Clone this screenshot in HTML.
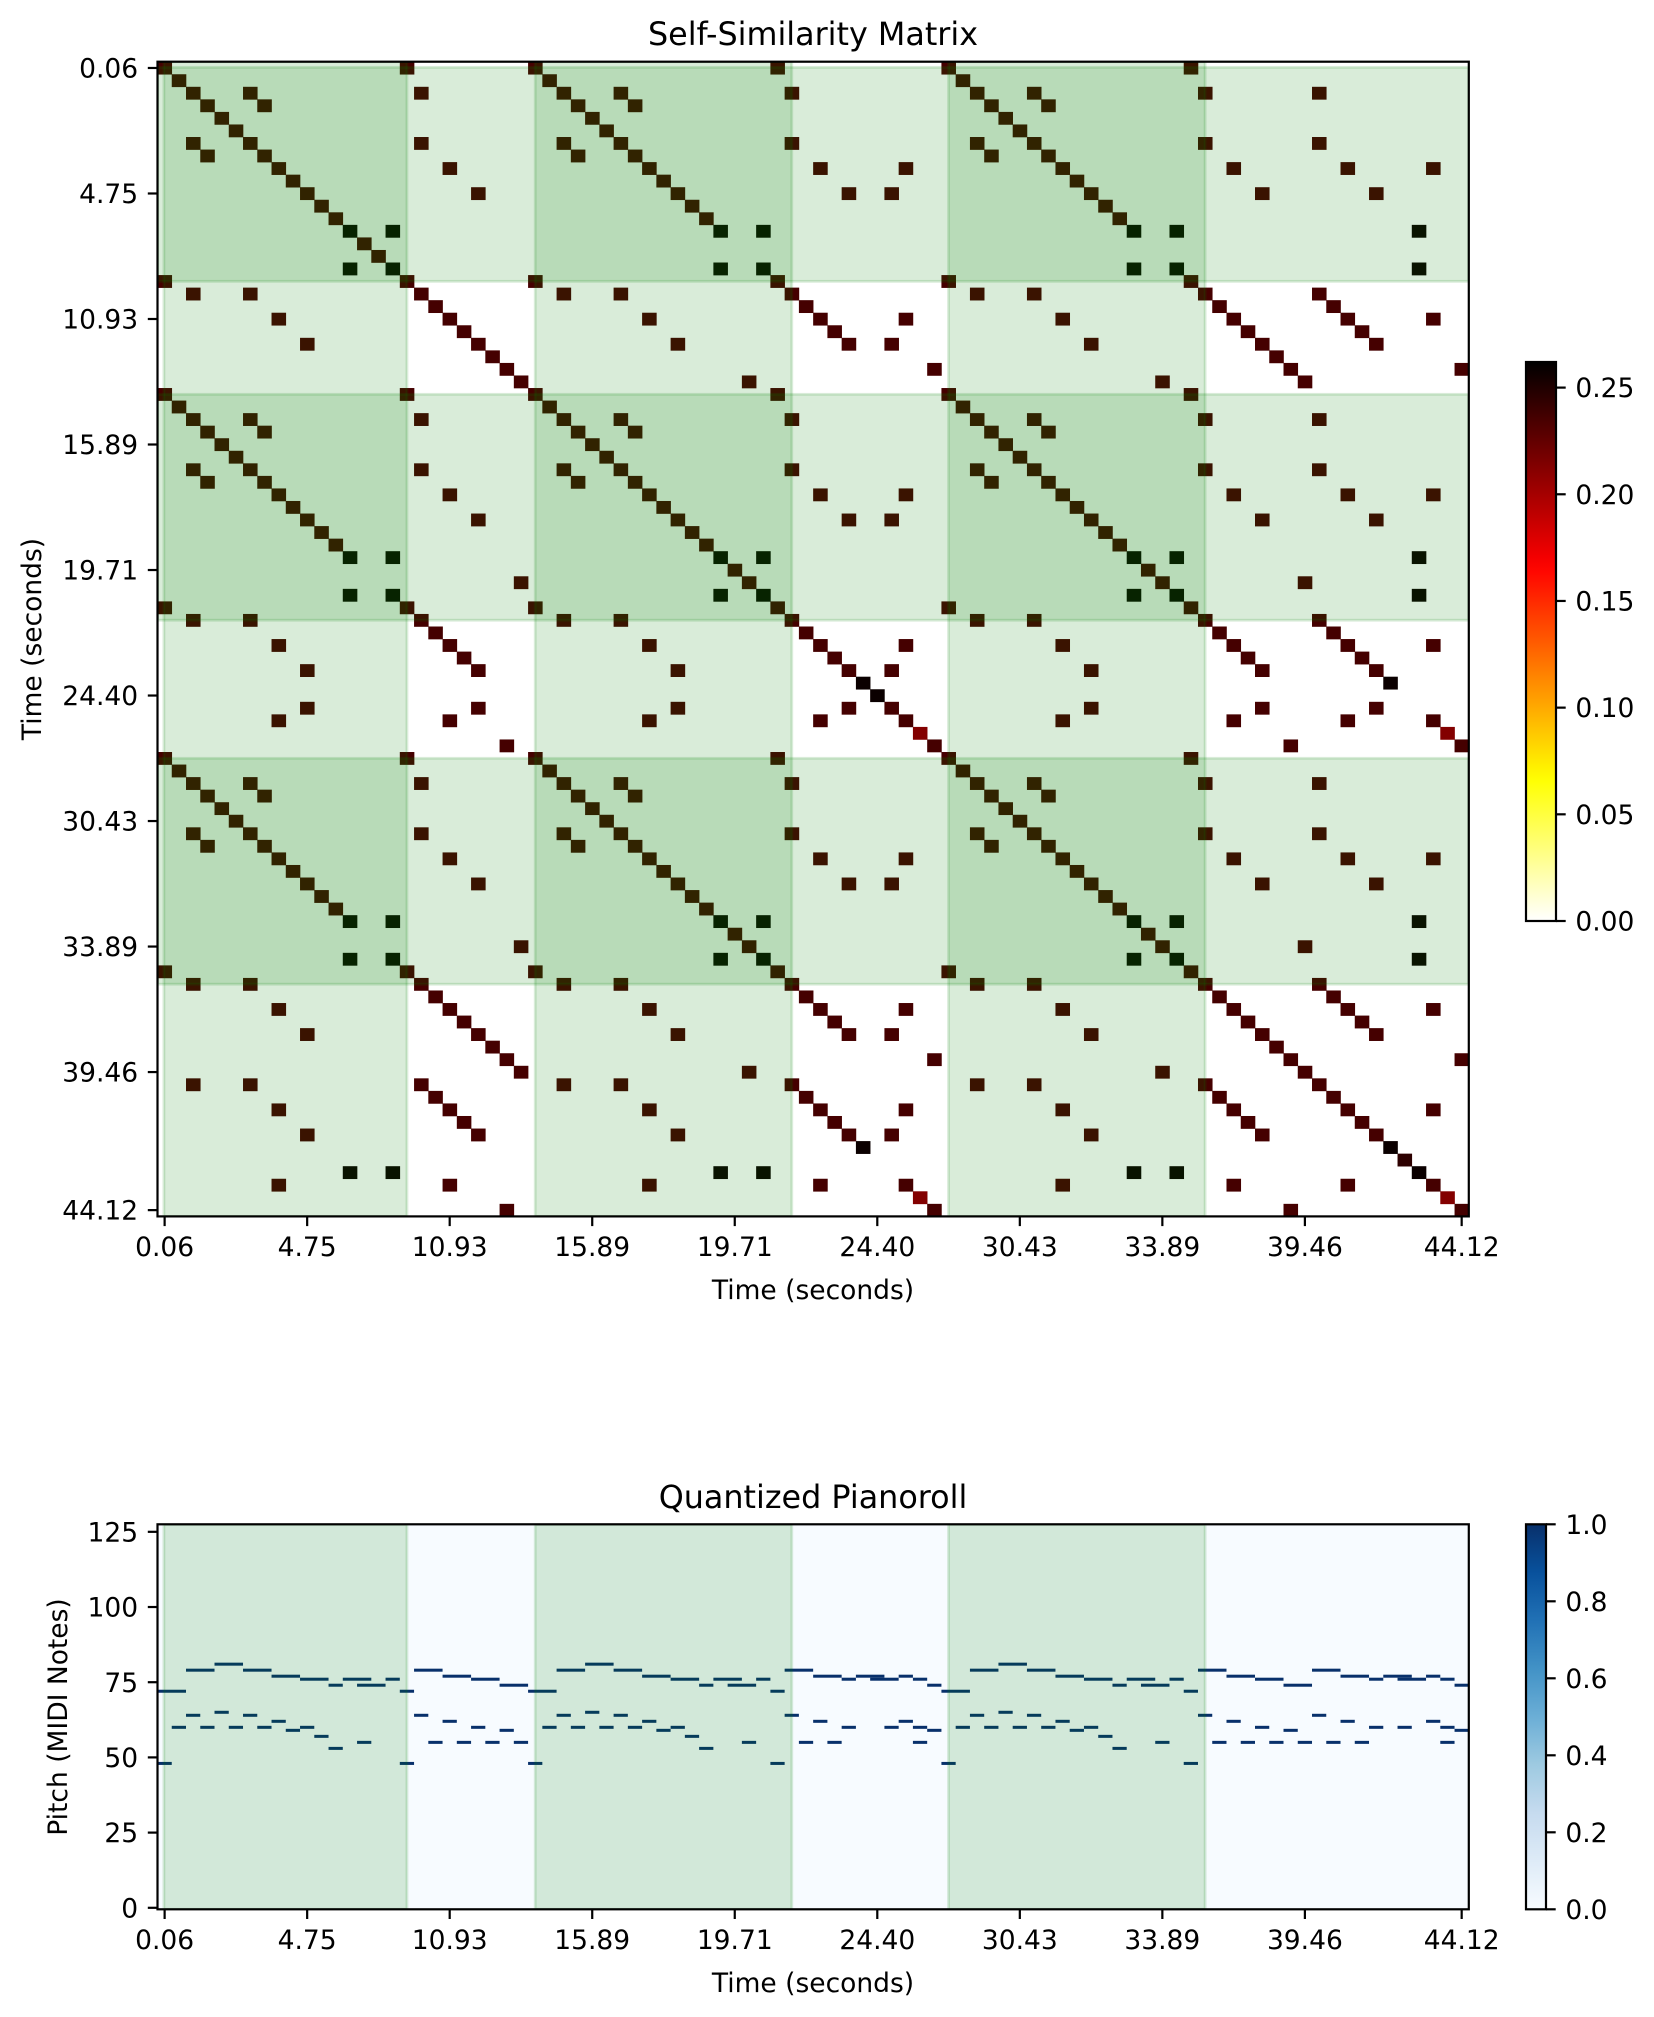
<!DOCTYPE html>
<html><head><meta charset="utf-8"><title>Self-Similarity Matrix</title>
<style>
html,body{margin:0;padding:0;background:#fff;}
svg{display:block;font-family:"DejaVu Sans","Liberation Sans",sans-serif;}
</style></head>
<body>
<svg id="fig" width="1654" height="2017" viewBox="0 0 1654 2017" xmlns="http://www.w3.org/2000/svg">
<rect x="0" y="0" width="1654" height="2017" fill="#fff"/>
<defs>
<clipPath id="clipSSM"><rect x="157.5" y="61.7" width="1311.3" height="1154.7"/></clipPath>
<clipPath id="clipPR"><rect x="157.5" y="1524.3" width="1311.3" height="385"/></clipPath>
<linearGradient id="hotGrad" x1="0" y1="1" x2="0" y2="0"></linearGradient>
<linearGradient id="bluesGrad" x1="0" y1="1" x2="0" y2="0"></linearGradient>
</defs>
<g id="ssm"></g>
<g id="pr"></g>
<g id="cb1"></g>
<g id="cb2"></g>
<g id="txt"></g>
</svg>
<script>
// ---------- data ----------
const frameLabels = [
 "a","b","c","d","e","f","c","d","g","h","i","j","k","l","m","n","l",
 "a","c","o","g","p","i","q","r","s",
 "a","b","c","d","e","f","c","d","g","h","i","j","k","l","m2","s","l",
 "a","c","o","g","p","i","t","w","i","g","u","r",
 "a","b","c","d","e","f","c","d","g","h","i","j","k","l","m2","s","l",
 "a","c","o","g","p","i","q","r","s","c","o","g","p","i","t","v","l","g","u","r"
];
const strongLabels = ["l","t","w"];
const strongValue = 0.258;
const redLabels = ["u"];
const redValue = 0.213;
const midLabels = ["v"];
const midValue = 0.245;
const defaultValue = 0.236;
const ssmVmax = 0.262;

const sectionStarts = [0.45, 26.5, 55.5];
const sectionEnds = [17.5, 44.5, 73.5];

const timeTickFrames = [0,10,20,30,40,50,60,70,80,91];
const timeTickLabels = ["0.06","4.75","10.93","15.89","19.71","24.40","30.43","33.89","39.46","44.12"];
const pitchTicks = [0,25,50,75,100,125];
const ssmCbTicks = [0,0.05,0.10,0.15,0.20,0.25];
const ssmCbLabels = ["0.00","0.05","0.10","0.15","0.20","0.25"];
const prCbTicks = [0,0.2,0.4,0.6,0.8,1.0];
const prCbLabels = ["0.0","0.2","0.4","0.6","0.8","1.0"];

const noteEvents = [
 [81,4,6],[81,30,32],[81,59,61],
 [79,2,4],[79,6,8],[79,18,20],[79,28,30],[79,32,34],[79,44,46],[79,57,59],[79,61,63],[79,73,75],[79,81,83],
 [77,8,10],[77,20,22],[77,34,36],[77,46,48],[77,49,51],[77,52,53],[77,63,65],[77,75,77],[77,83,85],[77,86,88],[77,89,90],
 [76,10,12],[76,13,15],[76,16,17],[76,22,24],[76,36,38],[76,39,41],[76,42,43],[76,48,49],[76,50,52],[76,53,54],[76,65,67],[76,68,70],[76,71,72],[76,77,79],[76,85,86],[76,87,89],[76,90,91],
 [74,12,13],[74,14,16],[74,24,26],[74,38,39],[74,40,42],[74,54,55],[74,67,68],[74,69,71],[74,79,81],[74,91,92],
 [72,0,2],[72,17,18],[72,26,28],[72,43,44],[72,55,57],[72,72,73],
 [65,4,5],[65,30,31],[65,59,60],
 [64,2,3],[64,6,7],[64,18,19],[64,28,29],[64,32,33],[64,44,45],[64,57,58],[64,61,62],[64,73,74],[64,81,82],
 [62,8,9],[62,20,21],[62,34,35],[62,46,47],[62,52,53],[62,63,64],[62,75,76],[62,83,84],[62,89,90],
 [60,1,2],[60,3,4],[60,5,6],[60,7,8],[60,10,11],[60,22,23],[60,27,28],[60,29,30],[60,31,32],[60,33,34],[60,36,37],[60,48,49],[60,51,52],[60,53,54],[60,56,57],[60,58,59],[60,60,61],[60,62,63],[60,65,66],[60,77,78],[60,85,86],[60,87,88],[60,90,91],
 [59,9,10],[59,24,25],[59,35,36],[59,54,55],[59,64,65],[59,79,80],[59,91,92],
 [57,11,12],[57,37,38],[57,66,67],
 [55,14,15],[55,19,20],[55,21,22],[55,23,24],[55,25,26],[55,41,42],[55,45,46],[55,47,48],[55,53,54],[55,70,71],[55,74,75],[55,76,77],[55,78,79],[55,80,81],[55,82,83],[55,84,85],[55,90,91],
 [53,12,13],[53,38,39],[53,67,68],
 [48,0,1],[48,17,18],[48,26,27],[48,43,44],[48,55,56],[48,72,73]
];

// ---------- geometry ----------
const NS = "http://www.w3.org/2000/svg";
const N = frameLabels.length;
const AX_L = 157.5, AX_R = 1468.8;
const SSM_T = 61.7, SSM_B = 1216.4;
const PR_T = 1524.3, PR_B = 1909.3;
function sx(f){ return AX_L + f*(AX_R-AX_L)/N; }
function sy(r){ return SSM_T + r*(SSM_B-SSM_T)/N; }
function py(p){ return PR_B - (p+0.5)*(PR_B-PR_T)/128; }

function mk(parent, tag, attrs){
  const el = document.createElementNS(NS, tag);
  for (const k in attrs) el.setAttribute(k, attrs[k]);
  parent.appendChild(el);
  return el;
}
function hot(t){
  t = Math.max(0, Math.min(1, t));
  const r = Math.min(1, t/0.365079);
  const g = Math.max(0, Math.min(1, (t-0.365079)/(0.746032-0.365079)));
  const b = Math.max(0, Math.min(1, (t-0.746032)/(1-0.746032)));
  return "rgb(" + Math.round(r*255) + "," + Math.round(g*255) + "," + Math.round(b*255) + ")";
}
function hotR(x){ return hot(1-x); }
function labelValue(lab){
  if (strongLabels.indexOf(lab) >= 0) return strongValue;
  if (redLabels.indexOf(lab) >= 0) return redValue;
  if (midLabels.indexOf(lab) >= 0) return midValue;
  return defaultValue;
}

const ssm = document.getElementById("ssm");
const pr = document.getElementById("pr");
const txt = document.getElementById("txt");
const SPAN_FILL = "rgba(0,128,0,0.15)";

// ---------- SSM ----------
const cellG = mk(ssm, "g", {"clip-path":"url(#clipSSM)"});


const cw = (AX_R-AX_L)/N, ch = (SSM_B-SSM_T)/N;
for (let i=0;i<N;i++){
  for (let j=0;j<N;j++){
    if (frameLabels[i] !== frameLabels[j]) continue;
    const v = labelValue(frameLabels[i]);
    const c = mk(cellG, "rect", {x:sx(j).toFixed(2), y:sy(i).toFixed(2), width:(cw+0.3).toFixed(2), height:(ch+0.3).toFixed(2), fill:hotR(v/ssmVmax)});
    
    
  }
}
const spanG = mk(ssm, "g", {"clip-path":"url(#clipSSM)"});


for (let k=0;k<sectionStarts.length;k++){
  const v = mk(spanG, "rect", {x:sx(sectionStarts[k]), y:SSM_T, width:sx(sectionEnds[k])-sx(sectionStarts[k]), height:SSM_B-SSM_T, fill:SPAN_FILL, stroke:SPAN_FILL, "stroke-width":2.8});
  
  
  const h = mk(spanG, "rect", {x:AX_L, y:sy(sectionStarts[k]), width:AX_R-AX_L, height:sy(sectionEnds[k])-sy(sectionStarts[k]), fill:SPAN_FILL, stroke:SPAN_FILL, "stroke-width":2.8});
  
  
}
const ssmFrame = mk(ssm, "rect", {x:AX_L, y:SSM_T, width:AX_R-AX_L, height:SSM_B-SSM_T, fill:"none", stroke:"#000", "stroke-width":2.2});



// ---------- Pianoroll ----------
const prBg = mk(pr, "rect", {x:AX_L, y:PR_T, width:AX_R-AX_L, height:PR_B-PR_T, fill:"#f7fbff"});


const noteG = mk(pr, "g", {"clip-path":"url(#clipPR)"});


for (const n of noteEvents){
  const r = mk(noteG, "rect", {x:sx(n[1]).toFixed(2), y:py(n[0]+0.5).toFixed(2), width:(sx(n[2])-sx(n[1])).toFixed(2), height:(py(n[0]-0.5)-py(n[0]+0.5)).toFixed(2), fill:"#08306b"});
  
  
}
const prSpanG = mk(pr, "g", {"clip-path":"url(#clipPR)"});


for (let k=0;k<sectionStarts.length;k++){
  const v = mk(prSpanG, "rect", {x:sx(sectionStarts[k]), y:PR_T, width:sx(sectionEnds[k])-sx(sectionStarts[k]), height:PR_B-PR_T, fill:SPAN_FILL, stroke:SPAN_FILL, "stroke-width":2.8});
  
  
}
const prFrame = mk(pr, "rect", {x:AX_L, y:PR_T, width:AX_R-AX_L, height:PR_B-PR_T, fill:"none", stroke:"#000", "stroke-width":2.2});



// ---------- ticks & labels ----------
const FS = 26.5;
function text(x, y, s, size, anchor, name, extra){
  const t = mk(txt, "text", Object.assign({x:x, y:y, "font-size":size, "text-anchor":anchor, fill:"#000"}, extra||{}));
  t.textContent = s;
  return t;
}
function tickLine(x1,y1,x2,y2){
  return mk(txt, "line", {x1:x1, y1:y1, x2:x2, y2:y2, stroke:"#000", "stroke-width":2.2});
}
for (let k=0;k<timeTickFrames.length;k++){
  const fx = sx(timeTickFrames[k]+0.5);
  const fy = sy(timeTickFrames[k]+0.5);
  let l = tickLine(fx, SSM_B, fx, SSM_B+9.7);
  
  
  let t = text(fx, SSM_B+19.4+FS*0.76, timeTickLabels[k], FS, "middle");
  
  
  l = tickLine(AX_L-9.7, fy, AX_L, fy);
  
  
  t = text(AX_L-19.4, fy+FS*0.36, timeTickLabels[k], FS, "end");
  
  
  l = tickLine(fx, PR_B, fx, PR_B+9.7);
  
  
  t = text(fx, PR_B+19.4+FS*0.76, timeTickLabels[k], FS, "middle");
  
  
}
for (const p of pitchTicks){
  const y = py(p);
  const l = tickLine(AX_L-9.7, y, AX_L, y);
  
  
  const t = text(AX_L-19.4, y+FS*0.36, String(p), FS, "end");
  
  
}
let tt = text(813, 45, "Self-Similarity Matrix", 31.8, "middle");


tt = text(813, 1508, "Quantized Pianoroll", 31.8, "middle");


tt = text(813, 1299, "Time (seconds)", FS, "middle");


tt = text(813, 1992, "Time (seconds)", FS, "middle");


tt = text(0, 0, "Time (seconds)", FS, "middle", null, {transform:"translate(41,639) rotate(-90)"});


tt = text(0, 0, "Pitch (MIDI Notes)", FS, "middle", null, {transform:"translate(67,1717) rotate(-90)"});



// ---------- colorbars ----------
const hg = document.getElementById("hotGrad");
for (let s=0;s<=40;s++){
  mk(hg, "stop", {offset:(s/40), "stop-color":hotR(s/40)});
}
const bluesStops = ["#f7fbff","#deebf7","#c6dbef","#9ecae1","#6baed6","#4292c6","#2171b5","#08519c","#08306b"];
const bg = document.getElementById("bluesGrad");
for (let s=0;s<bluesStops.length;s++){
  mk(bg, "stop", {offset:s/(bluesStops.length-1), "stop-color":bluesStops[s]});
}
const cb1 = document.getElementById("cb1");
const CB1_X = 1526, CB1_W = 30, CB1_T = 362, CB1_B = 921;
let bar = mk(cb1, "rect", {x:CB1_X, y:CB1_T, width:CB1_W, height:CB1_B-CB1_T, fill:"url(#hotGrad)", stroke:"#000", "stroke-width":2.2});


for (let k=0;k<ssmCbTicks.length;k++){
  const y = CB1_B - ssmCbTicks[k]/ssmVmax*(CB1_B-CB1_T);
  const l = mk(cb1, "line", {x1:CB1_X+CB1_W, y1:y, x2:CB1_X+CB1_W+9.7, y2:y, stroke:"#000", "stroke-width":2.2});
  
  
  const t = mk(cb1, "text", {x:CB1_X+CB1_W+19.4, y:y+FS*0.36, "font-size":FS, fill:"#000"});
  t.textContent = ssmCbLabels[k];
  
  
}
const cb2 = document.getElementById("cb2");
const CB2_X = 1526, CB2_W = 20, CB2_T = PR_T, CB2_B = PR_B;
bar = mk(cb2, "rect", {x:CB2_X, y:CB2_T, width:CB2_W, height:CB2_B-CB2_T, fill:"url(#bluesGrad)", stroke:"#000", "stroke-width":2.2});


for (let k=0;k<prCbTicks.length;k++){
  const y = CB2_B - prCbTicks[k]*(CB2_B-CB2_T);
  const l = mk(cb2, "line", {x1:CB2_X+CB2_W, y1:y, x2:CB2_X+CB2_W+9.7, y2:y, stroke:"#000", "stroke-width":2.2});
  
  
  const t = mk(cb2, "text", {x:CB2_X+CB2_W+19.4, y:y+FS*0.36, "font-size":FS, fill:"#000"});
  t.textContent = prCbLabels[k];
  
  
}
</script>
</body></html>
